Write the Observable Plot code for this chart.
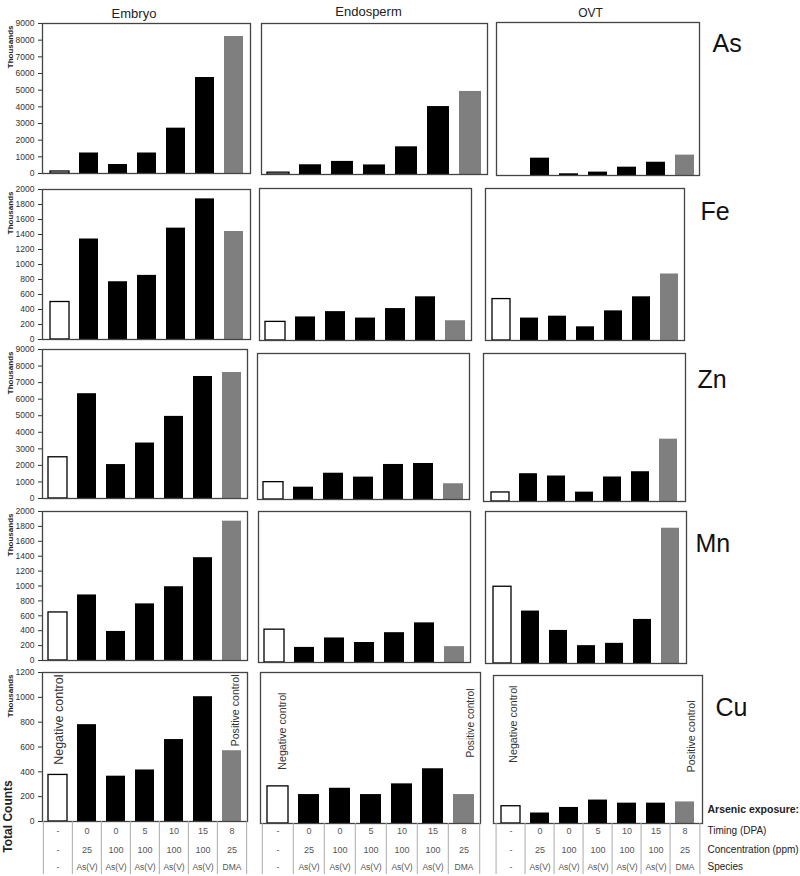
<!DOCTYPE html>
<html><head><meta charset="utf-8">
<script src="https://cdn.jsdelivr.net/npm/d3@7"></script>
<script src="https://cdn.jsdelivr.net/npm/@observablehq/plot@0.6"></script>
<style>
html,body{margin:0;padding:0;background:#fff;}
#chart{position:relative;width:800px;height:876px;overflow:hidden;}
#chart svg{position:absolute;left:0;top:0;}
</style></head><body><div id="chart"></div>
<script>
// ---------- data ----------
const elements = ["As", "Fe", "Zn", "Mn", "Cu"];
const tissues = ["Embryo", "Endosperm", "OVT"];
const treatments = ["NC", "0d-25", "0d-100", "5d-100", "10d-100", "15d-100", "DMA"];
const treatmentType = ["negative", "arsenate", "arsenate", "arsenate", "arsenate", "arsenate", "positive"];
const timingDPA = ["-", "0", "0", "5", "10", "15", "8"];
const concentrationPpm = ["-", "25", "100", "100", "100", "100", "25"];
const arsenicSpecies = ["-", "As(V)", "As(V)", "As(V)", "As(V)", "As(V)", "DMA"];
const tableRowLabels = ["Timing (DPA)", "Concentration (ppm)", "Species"];

// total counts, thousands
const asEmbryo = [120, 1230, 540, 1230, 2720, 5760, 8220];
const asEndosperm = [110, 580, 780, 570, 1650, 4050, 4950];
const asOVT = [0, 1020, 100, 200, 490, 780, 1200];
const feEmbryo = [500, 1340, 770, 855, 1485, 1875, 1440];
const feEndosperm = [245, 310, 380, 295, 420, 575, 260];
const feOVT = [545, 295, 320, 180, 390, 575, 875];
const znEmbryo = [2490, 6330, 2050, 3350, 4960, 7370, 7610];
const znEndosperm = [1070, 760, 1620, 1380, 2160, 2220, 970];
const znOVT = [550, 1690, 1550, 570, 1490, 1810, 3790];
const mnEmbryo = [645, 880, 390, 760, 990, 1380, 1870];
const mnEndosperm = [435, 200, 325, 265, 395, 525, 210];
const mnOVT = [1010, 690, 435, 235, 265, 580, 1780];
const cuEmbryo = [375, 780, 365, 415, 660, 1005, 570];
const cuEndosperm = [295, 230, 280, 230, 315, 435, 230];
const cuOVT = [140, 85, 130, 190, 165, 165, 175];

const yMaxByElement = [9000, 2000, 9000, 2000, 1200];
const yTickStep = [1000, 200, 1000, 200, 200];

const series = [
  [asEmbryo, asEndosperm, asOVT],
  [feEmbryo, feEndosperm, feOVT],
  [znEmbryo, znEndosperm, znOVT],
  [mnEmbryo, mnEndosperm, mnOVT],
  [cuEmbryo, cuEndosperm, cuOVT]
];

// ---------- layout ----------
const W = 800, H = 876;
const panelFrames = [ // [left, top, right, bottom]
  [[42, 23, 250, 173], [261, 23, 487, 174], [496, 22, 699, 175]],
  [[42, 189, 250, 339], [259, 188, 471, 340], [485, 188, 684, 340]],
  [[42, 349, 247, 498], [257, 353, 469, 499], [483, 353, 685, 501]],
  [[42, 511, 247, 660], [258, 511, 470, 662], [485, 511, 686, 663]],
  [[42, 672, 247, 821], [260, 672, 480, 823], [493, 675, 702, 823]]
];
const elementLabelDx = [13, 16, 12, 9, 13];
const elementLabelDy = [12, 14, 17, 22.5, 23];
const titleDx = [-12.5, -6, -7.5];
const titleDy = [-14.7, -16.7, -14];
const titleSize = [13, 13, 12];
const tableY = [833, 852, 869];
const negDx = [-4, 0, -2], negDy = [2, 20, 10], negSize = [12.5, 10.7, 10.7];
const posDx = [-1, 3, 2], posDy = [2, 16, 25], posSize = [10.6, 10.2, 10.6];
const FONT = "'Liberation Sans', Arial, Helvetica, sans-serif";

function makePanel(r, c) {
  const [L, T, R, B] = panelFrames[r][c];
  const values = series[r][c];
  const rows = treatments.map((t, i) => ({
    treatment: t, value: values[i], type: treatmentType[i],
    timing: timingDPA[i], conc: concentrationPpm[i], species: arsenicSpecies[i]
  }));
  const half = (R - L) / treatments.length / 2;
  const barOpts = {x: "treatment", y: "value", insetLeft: 5, insetRight: 5};
  const marks = [
    Plot.barY(rows, {...barOpts, filter: d => d.type === "arsenate", fill: "black"}),
    Plot.barY(rows, {...barOpts, filter: d => d.type === "positive", fill: "#7f7f7f"}),
    Plot.barY(rows, {...barOpts, filter: d => d.type === "negative", fill: "white", stroke: "black", strokeWidth: 1.3}),
    Plot.frame({stroke: "#444", strokeWidth: 1.3})
  ];
  if (r === 0) {
    marks.push(Plot.text([tissues[c]], {text: d => d, frameAnchor: "top", dx: titleDx[c], dy: titleDy[c],
      fontSize: titleSize[c], fill: "#222"}));
  }
  if (c === 2) {
    marks.push(Plot.text([elements[r]], {text: d => d, frameAnchor: "top-right", textAnchor: "start",
      dx: elementLabelDx[r], dy: elementLabelDy[r], fontSize: 25, fill: "#111"}));
  }
  if (c === 0) {
    marks.push(Plot.text(["Thousands"], {text: d => d, frameAnchor: "top-left", rotate: -90, textAnchor: "end",
      dx: -35, dy: 2, fontSize: 8, fontWeight: "bold", fill: "#222"}));
  }
  if (r === 4) {
    const keys = ["timing", "conc", "species"];
    keys.forEach((k, j) => {
      marks.push(Plot.text(rows, {x: "treatment", text: k, frameAnchor: "bottom", dy: tableY[j] - B,
        fontSize: j === 2 ? 8.5 : 9, fill: "#555"}));
    });
    marks.push(Plot.ruleX(treatments, {x: d => d, y1: 0, y2: 0, dx: -half, insetBottom: -(874 - B), stroke: "#aaa", strokeWidth: 1}));
    marks.push(Plot.ruleX([treatments[treatments.length - 1]], {x: d => d, y1: 0, y2: 0, dx: half, insetBottom: -(874 - B), stroke: "#aaa", strokeWidth: 1}));
    marks.push(Plot.text(["Negative control"], {x: () => treatments[0], text: d => d, frameAnchor: "top", rotate: -90,
      textAnchor: "end", dx: negDx[c], dy: negDy[c], fontSize: negSize[c], fill: "#333"}));
    marks.push(Plot.text(["Positive control"], {x: () => treatments[treatments.length - 1], text: d => d, frameAnchor: "top", rotate: -90,
      textAnchor: "end", dx: posDx[c], dy: posDy[c], fontSize: posSize[c], fill: "#333"}));
    if (c === 0) {
      marks.push(Plot.text(["Total Counts"], {text: d => d, frameAnchor: "bottom-left", rotate: -90, textAnchor: "middle",
        dx: -31, dy: -5, fontSize: 12, fontWeight: "bold", fill: "#222"}));
    }
    if (c === 2) {
      marks.push(Plot.text(["Arsenic exposure:"], {text: d => d, frameAnchor: "bottom-right", textAnchor: "start",
        dx: 5, dy: 812 - B, fontSize: 10.5, fontWeight: "bold", fill: "#222"}));
      tableRowLabels.forEach((lab, j) => {
        marks.push(Plot.text([lab], {text: d => d, frameAnchor: "bottom-right", textAnchor: "start",
          dx: 5, dy: tableY[j] - B, fontSize: 10, fill: "#222"}));
      });
    }
  }
  const yMax = yMaxByElement[r];
  return Plot.plot({
    width: W, height: H,
    marginLeft: L, marginRight: W - R, marginTop: T, marginBottom: H - B,
    style: `background:transparent;overflow:visible;font-family:${FONT};font-size:8.5px;color:#333;`,
    x: {type: "band", domain: treatments, padding: 0, axis: null},
    y: {
      domain: [0, yMax],
      ticks: d3.range(0, yMax + 1, yTickStep[r]),
      tickFormat: "d", tickSize: 4, tickPadding: 4, label: null,
      axis: c === 0 ? "left" : null
    },
    marks
  });
}

const chart = document.getElementById("chart");
for (let r = 0; r < elements.length; r++) {
  for (let c = 0; c < tissues.length; c++) {
    chart.append(makePanel(r, c));
  }
}
</script>
</body></html>
